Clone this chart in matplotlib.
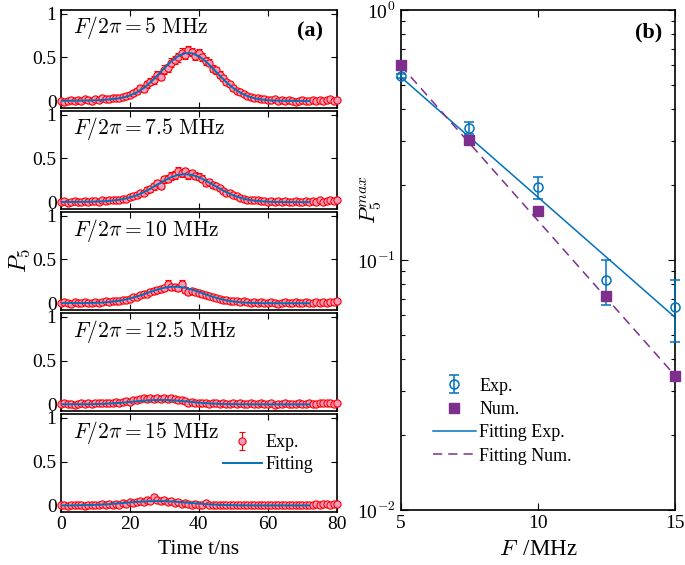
import matplotlib
matplotlib.use("Agg")
import matplotlib.pyplot as plt
import numpy as np
from matplotlib.ticker import FixedLocator, FixedFormatter, LogLocator, NullFormatter

plt.rcParams["font.family"] = ["Liberation Serif", "DejaVu Serif"]
plt.rcParams["mathtext.fontset"] = "cm"

# ---- panel (a): P5 vs time for several driving strengths ----
labels_a = ["5", "7.5", "10", "12.5", "15"]
t_exp = np.arange(0, 81, 1)
t_fit = np.arange(0, 73, 2)

p_exp_5 = [0.00, -0.01, 0.00, 0.01, 0.00, 0.01, 0.00, 0.02, 0.01, 0.00,
           0.02, 0.01, 0.03, 0.02, 0.02, 0.03, 0.04, 0.03, 0.05, 0.06,
           0.07, 0.09, 0.11, 0.15, 0.14, 0.19, 0.22, 0.24, 0.30, 0.28,
           0.36, 0.38, 0.44, 0.47, 0.50, 0.55, 0.53, 0.58, 0.56, 0.52,
           0.55, 0.50, 0.46, 0.44, 0.37, 0.35, 0.30, 0.26, 0.22, 0.19,
           0.15, 0.12, 0.10, 0.08, 0.06, 0.05, 0.04, 0.03, 0.02, 0.02,
           0.01, 0.01, 0.02, 0.00, 0.01, 0.00, 0.01, 0.00, -0.01, 0.00,
           0.01, 0.00, 0.00, 0.01, 0.00, 0.01, 0.00, 0.01, 0.02, 0.00,
           0.01]
p_exp_75 = [0.00, 0.01, -0.01, 0.00, 0.01, 0.00, 0.00, 0.01, 0.00, 0.01,
            0.01, 0.00, 0.02, 0.01, 0.02, 0.02, 0.03, 0.02, 0.04, 0.04,
            0.06, 0.07, 0.08, 0.10, 0.11, 0.14, 0.15, 0.18, 0.22, 0.19,
            0.26, 0.27, 0.30, 0.31, 0.36, 0.33, 0.35, 0.31, 0.33, 0.30,
            0.29, 0.27, 0.22, 0.23, 0.20, 0.18, 0.16, 0.13, 0.11, 0.10,
            0.08, 0.07, 0.05, 0.04, 0.03, 0.03, 0.02, 0.02, 0.01, 0.01,
            0.00, 0.01, 0.00, 0.01, 0.00, 0.01, 0.00, 0.00, 0.01, 0.00,
            0.00, 0.01, 0.00, 0.01, 0.00, 0.02, 0.00, 0.01, 0.02, 0.01,
            0.03]
p_exp_10 = [0.00, 0.01, 0.00, -0.01, 0.01, 0.00, 0.00, 0.01, 0.00, 0.00,
            0.01, 0.00, 0.01, 0.02, 0.01, 0.02, 0.02, 0.03, 0.04, 0.04,
            0.05, 0.07, 0.07, 0.09, 0.10, 0.11, 0.13, 0.14, 0.15, 0.16,
            0.17, 0.22, 0.18, 0.19, 0.17, 0.22, 0.15, 0.13, 0.14, 0.13,
            0.12, 0.10, 0.09, 0.08, 0.07, 0.06, 0.05, 0.04, 0.04, 0.03,
            0.02, 0.02, 0.01, 0.02, 0.01, 0.00, 0.01, 0.00, 0.01, 0.00,
            0.00, 0.01, 0.00, -0.01, 0.00, 0.01, 0.00, 0.00, 0.01, 0.00,
            0.00, 0.01, 0.00, 0.00, 0.01, 0.00, 0.01, 0.00, 0.01, 0.01,
            0.02]
p_exp_125 = [0.00, 0.01, 0.00, 0.00, -0.01, 0.00, 0.01, 0.00, 0.01, 0.00,
             0.01, 0.02, 0.01, 0.02, 0.01, 0.02, 0.03, 0.02, 0.03, 0.04,
             0.03, 0.05, 0.05, 0.06, 0.07, 0.06, 0.07, 0.06, 0.07, 0.06,
             0.07, 0.06, 0.07, 0.06, 0.05, 0.05, 0.04, 0.02, 0.03, 0.02,
             0.01, 0.02, 0.01, 0.00, 0.01, 0.02, 0.00, 0.01, 0.00, 0.00,
             0.01, 0.00, 0.01, 0.00, 0.00, 0.01, 0.00, 0.00, 0.01, 0.00,
             0.00, 0.01, -0.01, 0.00, 0.00, 0.01, 0.00, 0.00, 0.00, 0.01,
             0.00, 0.00, 0.01, 0.00, 0.00, 0.02, 0.01, 0.02, 0.01, 0.00,
             0.02]
p_exp_15 = [0.00, 0.00, -0.01, 0.00, 0.00, 0.01, 0.00, -0.01, 0.00, 0.01,
            0.00, 0.01, 0.02, 0.01, 0.02, 0.01, 0.02, 0.01, 0.03, 0.02,
            0.04, 0.03, 0.04, 0.05, 0.04, 0.06, 0.05, 0.10, 0.06, 0.05,
            0.06, 0.04, 0.05, 0.03, 0.04, 0.02, 0.03, 0.02, 0.01, 0.02,
            0.01, 0.00, 0.03, 0.01, 0.00, 0.01, 0.00, 0.01, 0.00, 0.00,
            0.01, 0.00, 0.01, 0.00, 0.00, 0.01, 0.00, 0.00, 0.01, 0.00,
            0.00, 0.01, 0.00, 0.01, 0.00, 0.00, 0.01, 0.00, 0.01, 0.00,
            0.00, 0.01, 0.00, 0.01, 0.02, 0.01, 0.02, 0.02, 0.01, 0.02,
            0.02]

err_5 = [0.015, 0.012, 0.015, 0.013, 0.014, 0.015, 0.012, 0.016, 0.014, 0.015,
         0.016, 0.015, 0.018, 0.017, 0.018, 0.020, 0.022, 0.021, 0.024, 0.026,
         0.028, 0.030, 0.034, 0.036, 0.035, 0.040, 0.038, 0.042, 0.045, 0.040,
         0.046, 0.044, 0.048, 0.046, 0.050, 0.052, 0.050, 0.054, 0.050, 0.048,
         0.050, 0.047, 0.046, 0.044, 0.042, 0.040, 0.038, 0.036, 0.034, 0.032,
         0.030, 0.028, 0.026, 0.024, 0.022, 0.020, 0.018, 0.017, 0.016, 0.015,
         0.015, 0.014, 0.015, 0.013, 0.014, 0.013, 0.014, 0.012, 0.013, 0.014,
         0.013, 0.012, 0.014, 0.013, 0.012, 0.014, 0.013, 0.014, 0.015, 0.013,
         0.014]
err_75 = [0.014, 0.013, 0.012, 0.014, 0.013, 0.012, 0.014, 0.013, 0.012, 0.014,
          0.014, 0.013, 0.015, 0.014, 0.016, 0.017, 0.018, 0.018, 0.020, 0.022,
          0.024, 0.026, 0.028, 0.030, 0.032, 0.034, 0.035, 0.036, 0.038, 0.036,
          0.040, 0.040, 0.042, 0.040, 0.044, 0.042, 0.042, 0.040, 0.041, 0.040,
          0.039, 0.038, 0.036, 0.035, 0.034, 0.032, 0.030, 0.028, 0.026, 0.024,
          0.022, 0.020, 0.018, 0.017, 0.016, 0.015, 0.014, 0.014, 0.013, 0.013,
          0.012, 0.013, 0.012, 0.013, 0.012, 0.013, 0.012, 0.012, 0.013, 0.012,
          0.012, 0.013, 0.012, 0.013, 0.012, 0.014, 0.012, 0.013, 0.014, 0.013,
          0.015]
err_10 = [0.013, 0.012, 0.012, 0.013, 0.012, 0.012, 0.013, 0.012, 0.012, 0.013,
          0.013, 0.012, 0.013, 0.014, 0.013, 0.014, 0.015, 0.016, 0.017, 0.018,
          0.020, 0.022, 0.022, 0.024, 0.026, 0.027, 0.028, 0.030, 0.030, 0.031,
          0.032, 0.045, 0.034, 0.035, 0.033, 0.045, 0.034, 0.032, 0.031, 0.030,
          0.029, 0.027, 0.026, 0.024, 0.022, 0.020, 0.018, 0.017, 0.016, 0.015,
          0.014, 0.014, 0.013, 0.014, 0.013, 0.012, 0.013, 0.012, 0.013, 0.012,
          0.012, 0.013, 0.012, 0.012, 0.012, 0.013, 0.012, 0.012, 0.013, 0.012,
          0.012, 0.013, 0.012, 0.012, 0.013, 0.012, 0.013, 0.012, 0.013, 0.013,
          0.014]
err_125 = [0.012, 0.012, 0.011, 0.012, 0.012, 0.011, 0.012, 0.012, 0.012, 0.011,
           0.012, 0.013, 0.012, 0.013, 0.012, 0.013, 0.014, 0.013, 0.014, 0.015,
           0.014, 0.016, 0.016, 0.017, 0.018, 0.017, 0.018, 0.017, 0.018, 0.017,
           0.018, 0.017, 0.018, 0.017, 0.016, 0.016, 0.015, 0.013, 0.014, 0.013,
           0.012, 0.013, 0.012, 0.012, 0.012, 0.013, 0.012, 0.012, 0.012, 0.012,
           0.012, 0.012, 0.012, 0.012, 0.012, 0.012, 0.012, 0.012, 0.012, 0.012,
           0.012, 0.012, 0.011, 0.012, 0.012, 0.012, 0.012, 0.012, 0.012, 0.012,
           0.012, 0.012, 0.012, 0.012, 0.012, 0.013, 0.012, 0.013, 0.012, 0.012,
           0.013]
err_15 = [0.012, 0.012, 0.011, 0.012, 0.012, 0.012, 0.012, 0.011, 0.012, 0.012,
          0.012, 0.012, 0.013, 0.012, 0.013, 0.012, 0.013, 0.012, 0.014, 0.013,
          0.015, 0.014, 0.015, 0.016, 0.015, 0.017, 0.016, 0.020, 0.017, 0.016,
          0.017, 0.015, 0.016, 0.014, 0.015, 0.013, 0.014, 0.013, 0.012, 0.013,
          0.012, 0.012, 0.014, 0.012, 0.012, 0.012, 0.012, 0.012, 0.012, 0.012,
          0.012, 0.012, 0.012, 0.012, 0.012, 0.012, 0.012, 0.012, 0.012, 0.012,
          0.012, 0.012, 0.012, 0.012, 0.012, 0.012, 0.012, 0.012, 0.012, 0.012,
          0.012, 0.012, 0.012, 0.012, 0.013, 0.012, 0.013, 0.013, 0.012, 0.013,
          0.013]

fit_5 = [0.003, 0.003, 0.004, 0.005, 0.006, 0.008, 0.012, 0.018, 0.026, 0.040,
         0.062, 0.097, 0.147, 0.214, 0.292, 0.375, 0.453, 0.513, 0.546, 0.546,
         0.513, 0.453, 0.375, 0.292, 0.214, 0.147, 0.095, 0.058, 0.033, 0.018,
         0.009, 0.005, 0.003, 0.002, 0.001, 0.001, 0.000]
fit_75 = [0.002, 0.002, 0.002, 0.003, 0.004, 0.006, 0.009, 0.014, 0.022, 0.034,
          0.053, 0.077, 0.113, 0.155, 0.201, 0.246, 0.285, 0.311, 0.320, 0.311,
          0.285, 0.246, 0.201, 0.155, 0.113, 0.077, 0.050, 0.030, 0.018, 0.010,
          0.005, 0.002, 0.001, 0.001, 0.000, 0.000, 0.000]
fit_10 = [0.002, 0.002, 0.002, 0.002, 0.003, 0.005, 0.008, 0.014, 0.023, 0.036,
          0.054, 0.076, 0.101, 0.130, 0.156, 0.177, 0.188, 0.188, 0.177, 0.156,
          0.130, 0.101, 0.074, 0.051, 0.033, 0.020, 0.011, 0.006, 0.003, 0.001,
          0.001, 0.000, 0.000, 0.000, 0.000, 0.000, 0.000]
fit_125 = [0.001, 0.001, 0.001, 0.001, 0.002, 0.003, 0.005, 0.009, 0.013, 0.019,
           0.027, 0.034, 0.041, 0.047, 0.050, 0.050, 0.047, 0.041, 0.034, 0.027,
           0.019, 0.013, 0.009, 0.005, 0.003, 0.002, 0.001, 0.001, 0.000, 0.000,
           0.000, 0.000, 0.000, 0.000, 0.000, 0.000, 0.000]
fit_15 = [0.000, 0.000, 0.001, 0.003, 0.004, 0.007, 0.010, 0.015, 0.021, 0.027,
          0.034, 0.040, 0.045, 0.049, 0.050, 0.049, 0.045, 0.040, 0.034, 0.027,
          0.021, 0.015, 0.010, 0.007, 0.004, 0.003, 0.001, 0.001, 0.000, 0.000,
          0.000, 0.000, 0.000, 0.000, 0.000, 0.000, 0.000]

p_exp_all = [p_exp_5, p_exp_75, p_exp_10, p_exp_125, p_exp_15]
err_all = [err_5, err_75, err_10, err_125, err_15]
fit_all = [fit_5, fit_75, fit_10, fit_125, fit_15]

# ---- panel (b): peak population vs F ----
F_vals = [5, 7.5, 10, 12.5, 15]
pmax_exp = [0.545, 0.338, 0.195, 0.083, 0.065]
pmax_err = [0.01, 0.02, 0.02, 0.017, 0.018]
pmax_num = [0.603, 0.302, 0.157, 0.072, 0.0345]
F_fit = [5, 15]
pfit_exp = [0.54, 0.059]
pfit_num = [0.60, 0.0345]

blue = "#0072BD"
purple = "#7E2F8E"
pink = "#F59BBE"

W, H = 685, 565
fig = plt.figure(figsize=(W / 100, H / 100), dpi=100)

# panel geometry in pixels
a_left, a_right = 60.7, 337.0
panel_h, gap, top0 = 97.6, 3.5, 10.0

axes_a = []
for i in range(5):
    top = top0 + i * (panel_h + gap)
    ax = fig.add_axes([a_left / W, 1 - (top + panel_h) / H,
                       (a_right - a_left) / W, panel_h / H])
    axes_a.append(ax)

    ax.plot(t_fit, fit_all[i], "-", color=blue, linewidth=1.4, zorder=4,
            label="Fitting")
    eb = ax.errorbar(t_exp, p_exp_all[i], yerr=err_all[i], fmt="o",
                     color="red", ecolor="red", markerfacecolor=pink,
                     markeredgecolor="red", markersize=5.2,
                     markeredgewidth=0.8, elinewidth=0.8, capsize=2.5,
                     capthick=0.8, zorder=3, label="Exp.")
    for art in eb.lines[0:1] + tuple(eb.lines[1]) + tuple(eb.lines[2]):
        art.set_clip_on(False)

    ax.set_xlim(0, 80)
    ax.set_ylim(-0.075, 1.04)
    ax.set_yticks([0, 0.5, 1])
    ax.set_yticklabels(["0", "0.5", "1"])
    ax.set_xticks([0, 20, 40, 60, 80])
    ax.tick_params(direction="in", top=True, right=True, labelsize=14,
                   length=4, width=0.8, pad=3)
    for sp in ax.spines.values():
        sp.set_linewidth(1.2)
    if i < 4:
        ax.set_xticklabels([])
    ax.text(0.045, 0.761, r"$F/2\pi = %s\ \mathrm{MHz}$" % labels_a[i],
            transform=ax.transAxes, fontsize=15.5, va="baseline", ha="left")

axes_a[0].text(0.949, 0.725, "(a)", transform=axes_a[0].transAxes,
               fontsize=16, fontweight="bold", va="baseline", ha="right")
axes_a[2].set_ylabel(r"$P_5$", fontsize=17, labelpad=0)
axes_a[4].set_xlabel("Time t/ns", fontsize=15.5, labelpad=5)

h, l = axes_a[4].get_legend_handles_labels()
axes_a[4].legend([h[1], h[0]], [l[1], l[0]], loc="upper left",
                 bbox_to_anchor=(0.54, 0.93), frameon=False, fontsize=13,
                 handlelength=2.2, handletextpad=0.2, labelspacing=0.3,
                 borderpad=0.2)

# ---- panel (b) ----
b_left, b_right, b_top, b_bot = 400.7, 675.0, 10.0, 510.0
axb = fig.add_axes([b_left / W, 1 - b_bot / H, (b_right - b_left) / W,
                    (b_bot - b_top) / H])
axb.set_yscale("log")

axb.errorbar(F_vals, pmax_exp, yerr=pmax_err, fmt="o", color=blue,
             markerfacecolor="none", markersize=6.5, markeredgewidth=1.1,
             elinewidth=1.1, capsize=3.5, capthick=1.1, clip_on=False,
             zorder=4, label="Exp.")
axb.plot(F_vals, pmax_num, "s", color=purple, markersize=7, clip_on=False,
         zorder=4, label="Num.")
axb.plot(F_fit, pfit_exp, "-", color=blue, linewidth=1.1,
         label="Fitting Exp.")
axb.plot(F_fit, pfit_num, color=purple, linewidth=1.1,
         linestyle=(0, (6, 4)), label="Fitting Num.")

axb.set_xlim(5, 15)
axb.set_ylim(1e-2, 1)
axb.set_xticks([5, 10, 15])
axb.set_xticklabels(["5", "10", "15"])
axb.yaxis.set_major_locator(FixedLocator([1e-2, 1e-1, 1]))
axb.yaxis.set_major_formatter(FixedFormatter(["10$^{-2}$", "10$^{-1}$",
                                              "10$^{0}$"]))
axb.yaxis.set_minor_locator(LogLocator(base=10, subs=np.arange(2, 10)))
axb.yaxis.set_minor_formatter(NullFormatter())
axb.tick_params(which="both", direction="in", top=True, right=True,
                labelsize=14, width=0.8)
axb.tick_params(which="major", length=5)
axb.tick_params(which="minor", length=3)
for sp in axb.spines.values():
    sp.set_linewidth(1.2)

axb.set_xlabel(r"$F\,$ /MHz", fontsize=16.5, labelpad=5)
axb.set_ylabel(r"$P_5^{max}$", fontsize=16)
axb.yaxis.set_label_coords(-0.06, 0.62)
axb.text(0.955, 0.975, "(b)", transform=axb.transAxes, fontsize=16,
         fontweight="bold", va="top", ha="right")

hb, lb = axb.get_legend_handles_labels()
order = [lb.index("Exp."), lb.index("Num."), lb.index("Fitting Exp."),
         lb.index("Fitting Num.")]
axb.legend([hb[k] for k in order], [lb[k] for k in order], loc="upper left",
           bbox_to_anchor=(0.07, 0.29), frameon=False, fontsize=13,
           handlelength=2.4, handletextpad=0.2, labelspacing=0.35,
           borderpad=0.2)

fig.savefig("out.png", dpi=100)
